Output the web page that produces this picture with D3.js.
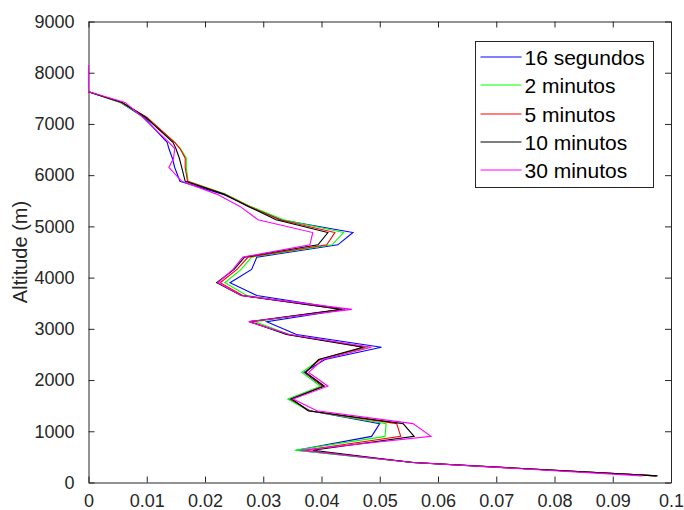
<!DOCTYPE html>
<html>
  <head>
    <meta charset="utf-8"/>
    <script type="text/javascript" src="https://cdnjs.cloudflare.com/ajax/libs/d3/7.8.5/d3.min.js"></script>
    <style type="text/css">

html, body {
  margin: 0;
  padding: 0;
  background: #fff;
}

svg {
  font-family: "Liberation Sans", Arial, sans-serif;
}

.axis path, .axis line {
  stroke: #262626;
}

.axis text {
  fill: #262626;
  font-size: 18px;
}

    </style>
  </head>
  <body>
    <div id="chart"></div>
    <script type="text/javascript">

// altitude levels (m), shared by every series; null = no value at that level
var altitudes = [8150, 7630, 7420, 7130, 6640, 6520, 6330, 6150, 5880, 5630, 5390, 5130,
  4880, 4640, 4400, 4160, 3900, 3650, 3380, 3140, 2890, 2640, 2400, 2150, 1880, 1630,
  1400, 1150, 900, 630, 390, 130];

var seg16 = [null, 0, 0.0055, 0.0095, 0.0135, 0.0138, 0.0144, 0.0148, 0.0157, 0.0230, 0.0277, 0.0330,
  0.0454, 0.0428, 0.0289, 0.0280, 0.0243, 0.0289, 0.0440, 0.0306, 0.0357, 0.0503, 0.0406, 0.0370, 0.0402, 0.0345,
  0.0380, 0.0500, 0.0486, 0.0357, 0.0557, 0.0975];
var min2 = [null, 0, 0.0055, 0.0098, 0.0148, 0.0158, 0.0168, 0.0168, 0.0171, 0.0235, 0.0278, 0.0335,
  0.0438, 0.0418, 0.0280, 0.0262, 0.0234, 0.0272, 0.0438, 0.0286, 0.0345, 0.0480, 0.0398, 0.0366, 0.0398, 0.0342,
  0.0378, 0.0511, 0.0509, 0.0354, 0.0557, 0.0975];
var min5 = [null, 0, 0.0057, 0.0100, 0.0148, 0.0157, 0.0166, 0.0166, 0.0170, 0.0233, 0.0276, 0.0328,
  0.0423, 0.0409, 0.0274, 0.0255, 0.0226, 0.0265, 0.0436, 0.0278, 0.0342, 0.0475, 0.0397, 0.0372, 0.0403, 0.0348,
  0.0378, 0.0529, 0.0536, 0.0371, 0.0557, 0.0975];
var min10 = [null, 0, 0.0058, 0.0098, 0.0145, 0.0150, 0.0156, 0.0160, 0.0166, 0.0232, 0.0274, 0.0322,
  0.0411, 0.0394, 0.0268, 0.0250, 0.0220, 0.0262, 0.0435, 0.0276, 0.0340, 0.0471, 0.0395, 0.0373, 0.0405, 0.0349,
  0.0377, 0.0540, 0.0559, 0.0385, 0.0557, 0.0977];
var min30 = [0, 0, 0.0063, 0.0093, 0.0138, 0.0148, 0.0146, 0.0138, 0.0160, 0.0220, 0.0260, 0.0291,
  0.0385, 0.0380, 0.0265, 0.0248, 0.0222, 0.0262, 0.0452, 0.0275, 0.0345, 0.0486, 0.0402, 0.0378, 0.0411, 0.0351,
  0.0392, 0.0557, 0.0588, 0.0365, 0.0557, 0.0951];

var seriesNames = ["16 segundos", "2 minutos", "5 minutos", "10 minutos", "30 minutos"];
var seriesColors = ["#0000ff", "#00ff00", "#ff0000", "#000000", "#ff00ff"];
var seriesValues = [seg16, min2, min5, min10, min30];

var xTicks = [0, 0.01, 0.02, 0.03, 0.04, 0.05, 0.06, 0.07, 0.08, 0.09, 0.1];
var yTicks = [0, 1000, 2000, 3000, 4000, 5000, 6000, 7000, 8000, 9000];

var width = 684, height = 510;
var margin = {top: 21.5, right: 13, bottom: 27.5, left: 88.5};

var svg = d3.select("#chart").append("svg")
    .attr("width", width)
    .attr("height", height);

var x = d3.scaleLinear().domain([0, 0.1]).range([margin.left, width - margin.right]);
var y = d3.scaleLinear().domain([0, 9000]).range([height - margin.bottom, margin.top]);

var tickLen = 6;

// axes, MATLAB style: ticks inward, box on
svg.append("g").attr("class", "axis")
    .attr("transform", "translate(0," + y(0) + ")")
    .call(d3.axisBottom(x).tickValues(xTicks).tickSizeInner(-tickLen).tickSizeOuter(0)
      .tickPadding(tickLen + 6).tickFormat(function(d) { return d === 0 ? "0" : d3.format("~g")(d); }));

svg.append("g").attr("class", "axis")
    .attr("transform", "translate(0," + y(9000) + ")")
    .call(d3.axisTop(x).tickValues(xTicks).tickSizeInner(-tickLen).tickSizeOuter(0).tickFormat(""));

svg.append("g").attr("class", "axis")
    .attr("transform", "translate(" + x(0) + ",0)")
    .call(d3.axisLeft(y).tickValues(yTicks).tickSizeInner(-tickLen).tickSizeOuter(0)
      .tickPadding(tickLen + 8).tickFormat(d3.format("d")));

svg.append("g").attr("class", "axis")
    .attr("transform", "translate(" + x(0.1) + ",0)")
    .call(d3.axisRight(y).tickValues(yTicks).tickSizeInner(-tickLen).tickSizeOuter(0).tickFormat(""));

svg.append("text")
    .attr("transform", "translate(27," + ((y(0) + y(9000)) / 2) + ") rotate(-90)")
    .attr("text-anchor", "middle")
    .style("font-size", "20px")
    .style("fill", "#262626")
    .text("Altitude (m)");

// profiles
var line = d3.line()
    .defined(function(d) { return d.v != null; })
    .x(function(d) { return x(d.v); })
    .y(function(d) { return y(d.alt); });

seriesValues.forEach(function(vals, i) {
  var pts = altitudes.map(function(a, j) { return {alt: a, v: vals[j]}; });
  svg.append("path")
      .datum(pts)
      .attr("fill", "none")
      .attr("stroke", seriesColors[i])
      .attr("stroke-width", 1.1)
      .attr("d", line);
});

// legend
var lg = svg.append("g").attr("transform", "translate(475.5,41.5)");
lg.append("rect")
    .attr("width", 178)
    .attr("height", 146)
    .attr("fill", "#fff")
    .attr("stroke", "#262626");

var item = lg.selectAll(".item")
    .data(seriesNames)
  .enter().append("g")
    .attr("transform", function(d, i) { return "translate(0," + (15.5 + Math.round(i * 28.3)) + ")"; });

item.append("line")
    .attr("x1", 5).attr("x2", 46)
    .attr("stroke-width", 1.1)
    .attr("stroke", function(d, i) { return seriesColors[i]; });

item.append("text")
    .attr("x", 49)
    .attr("dy", "0.36em")
    .style("font-size", "21px")
    .style("fill", "#000")
    .text(function(d) { return d; });

    </script>
  </body>
</html>
